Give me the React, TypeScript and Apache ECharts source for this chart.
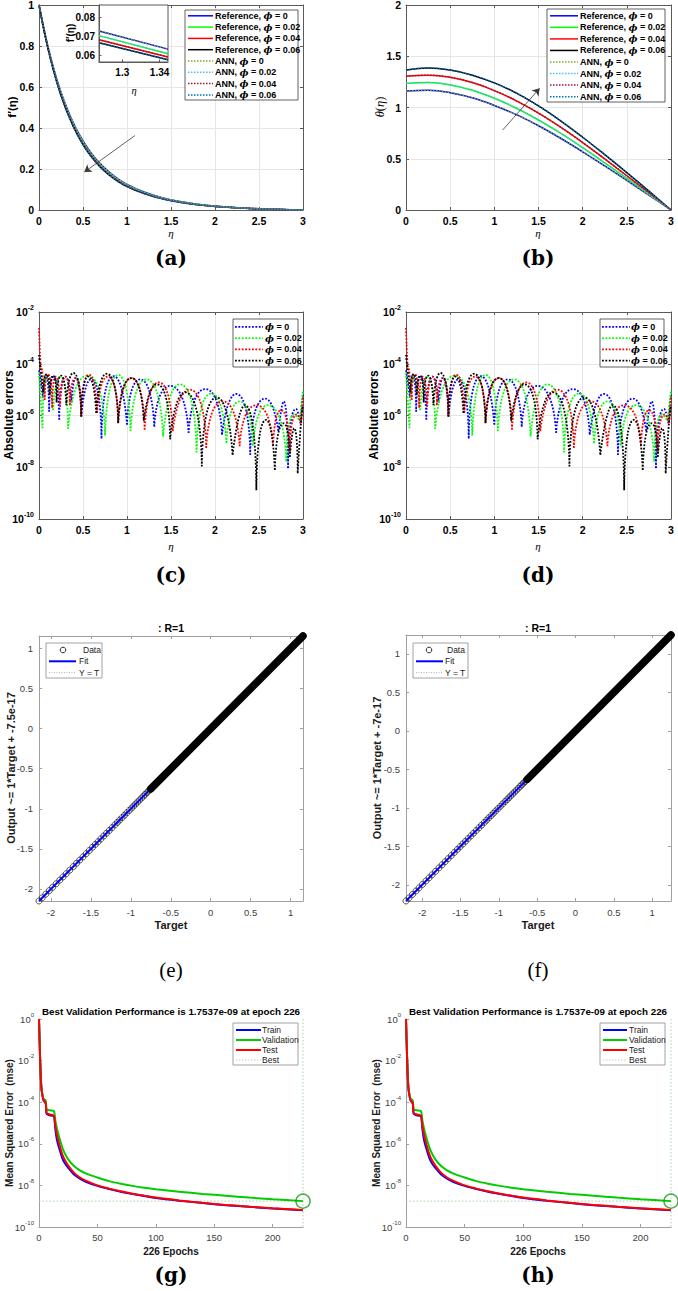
import React, { useEffect, useRef } from 'react';
import * as echarts from 'echarts';

const SANS = 'Liberation Sans, Arial, Helvetica, sans-serif';
const SERIF_B = 'DejaVu Serif, Liberation Serif, serif';
const TSERIF = 'Liberation Serif, DejaVu Serif, serif';
const PHI = 'DejaVu Serif, serif';

// ---------------- (a) f'(eta) ----------------
const etaA = [0, 0.1, 0.2, 0.3, 0.4, 0.5, 0.6, 0.7, 0.8, 0.9, 1.0, 1.2, 1.4, 1.6, 1.8, 2.0, 2.2, 2.4, 2.6, 2.8, 3.0];
const fpRef0 = [1, 0.800, 0.641, 0.516, 0.416, 0.337, 0.274, 0.224, 0.184, 0.151, 0.125, 0.0865, 0.0600, 0.0415, 0.0285, 0.0193, 0.0127, 0.0080, 0.0046, 0.0020, 0];
const fpRef2 = [1, 0.796, 0.635, 0.509, 0.408, 0.329, 0.266, 0.217, 0.178, 0.146, 0.121, 0.0835, 0.0579, 0.0401, 0.0275, 0.0186, 0.0123, 0.0077, 0.0044, 0.0019, 0];
const fpRef4 = [1, 0.793, 0.630, 0.503, 0.402, 0.323, 0.261, 0.212, 0.173, 0.142, 0.117, 0.0810, 0.0561, 0.0388, 0.0266, 0.0180, 0.0119, 0.0075, 0.0043, 0.0019, 0];
const fpRef6 = [1, 0.791, 0.627, 0.499, 0.398, 0.319, 0.257, 0.208, 0.170, 0.139, 0.114, 0.0790, 0.0548, 0.0379, 0.0260, 0.0176, 0.0116, 0.0073, 0.0042, 0.0018, 0];
const fpAnn0 = fpRef0;
const fpAnn2 = fpRef2;
const fpAnn4 = fpRef4;
const fpAnn6 = fpRef6;
const arrowA = [[1.09, 0.363], [0.515, 0.185]];
// inset of (a)
const insetEta = [1.275, 1.349];
const insetPhi0 = [0.0729, 0.0632];
const insetPhi2 = [0.0704, 0.0607];
const insetPhi4 = [0.0682, 0.0590];
const insetPhi6 = [0.0666, 0.0575];
const insetXTicks = [1.3, 1.34];
const insetYTicks = [0.06, 0.07, 0.08];

// ---------------- (b) theta(eta) ----------------
const etaB = [0, 0.25, 0.5, 0.75, 1, 1.25, 1.5, 1.75, 2, 2.25, 2.5, 2.75, 3];
const thRef0 = [1.160, 1.168, 1.145, 1.095, 1.020, 0.930, 0.822, 0.700, 0.568, 0.430, 0.288, 0.145, 0];
const thRef2 = [1.235, 1.243, 1.220, 1.168, 1.090, 0.993, 0.878, 0.749, 0.608, 0.460, 0.309, 0.155, 0];
const thRef4 = [1.305, 1.315, 1.295, 1.243, 1.165, 1.065, 0.945, 0.808, 0.658, 0.498, 0.334, 0.168, 0];
const thRef6 = [1.365, 1.385, 1.365, 1.315, 1.240, 1.140, 1.015, 0.870, 0.710, 0.540, 0.365, 0.184, 0];
const thAnn0 = thRef0;
const thAnn2 = thRef2;
const thAnn4 = thRef4;
const thAnn6 = thRef6;
const arrowB = [[1.094, 0.78], [1.513, 1.187]];

// ---------------- (c),(d) absolute errors ----------------
const errEta0 = [0, 0.045, 0.075, 0.115, 0.165, 0.23, 0.30, 0.37, 0.42, 0.48, 0.59, 0.71, 0.85, 1.0, 1.15, 1.31, 1.49, 1.70, 1.89, 2.08, 2.24, 2.40, 2.57, 2.72, 2.78, 2.83, 2.92, 2.97, 3.0];
const errVal0 = [5.6e-5, 5.0e-6, 3.5e-5, 1.4e-6, 3.2e-5, 6.8e-7, 3.2e-5, 3.2e-6, 2.8e-5, 9.1e-7, 2.5e-5, 1.3e-7, 3.3e-5, 4.4e-7, 2.5e-5, 3.7e-7, 1.4e-5, 2.1e-7, 1.05e-5, 1.8e-7, 6.8e-6, 3.0e-8, 4.5e-6, 2.5e-7, 3.5e-6, 9.1e-9, 1.8e-6, 5.0e-7, 6.3e-6];
const errEta1 = [0, 0.04, 0.09, 0.16, 0.24, 0.33, 0.55, 0.75, 0.90, 1.04, 1.22, 1.41, 1.60, 1.79, 1.96, 2.13, 2.28, 2.43, 2.60, 2.81, 2.90, 2.96, 3.0];
const errVal1 = [4.5e-5, 3.2e-7, 3.2e-5, 1.6e-6, 3.2e-5, 3.0e-7, 3.5e-5, 1.7e-7, 3.7e-5, 2.5e-7, 2.5e-5, 1.55e-7, 1.6e-5, 3.7e-8, 7.1e-6, 8.5e-8, 3.5e-6, 6.9e-8, 2.5e-6, 1.66e-8, 1.1e-6, 6.3e-7, 1.0e-5];
const errEta2 = [0, 0.015, 0.04, 0.065, 0.10, 0.15, 0.19, 0.24, 0.30, 0.35, 0.41, 0.48, 0.57, 0.66, 0.78, 0.90, 1.05, 1.20, 1.36, 1.52, 1.71, 1.90, 2.09, 2.28, 2.47, 2.66, 2.75, 2.85, 2.93, 2.98, 3.0];
const errVal2 = [2.4e-3, 1.26e-4, 4.0e-5, 4.0e-6, 4.0e-5, 2.0e-6, 3.2e-5, 2.2e-6, 3.2e-5, 2.5e-6, 2.8e-5, 9.1e-7, 3.8e-5, 1.26e-6, 3.2e-5, 5.4e-7, 2.8e-5, 2.8e-7, 1.9e-5, 2.5e-7, 1.0e-5, 5.5e-8, 3.5e-6, 6.5e-8, 2.5e-6, 7.1e-8, 1.6e-6, 4.0e-8, 1.1e-6, 5.0e-7, 5.0e-6];
const errEta3 = [0, 0.02, 0.05, 0.085, 0.12, 0.16, 0.20, 0.25, 0.31, 0.39, 0.48, 0.56, 0.65, 0.77, 0.90, 1.05, 1.19, 1.34, 1.49, 1.66, 1.85, 2.02, 2.20, 2.34, 2.47, 2.58, 2.68, 2.78, 2.85, 2.90, 2.94, 2.97, 3.0];
const errVal3 = [2.2e-4, 5.0e-5, 7.9e-6, 4.0e-5, 6.3e-6, 3.5e-5, 3.2e-6, 3.5e-5, 2.5e-6, 4.4e-5, 9.1e-7, 3.2e-5, 1.26e-6, 4.1e-5, 5.0e-7, 2.8e-5, 6.3e-7, 1.6e-5, 1.2e-7, 7.9e-6, 1.07e-8, 5.0e-6, 3.0e-8, 2.5e-6, 1.3e-9, 6.8e-7, 7.9e-9, 5.0e-7, 2.5e-8, 3.2e-7, 5.9e-9, 2.5e-7, 2.5e-6];

// ---------------- (e),(f) regression ----------------
const rangeE = [-2.15, 1.155];
const rangeF = [-2.21, 1.245];
const sparseTargetsE = [-2.15, -2.11, -2.065, -2.02, -1.98, -1.935, -1.89, -1.85, -1.81, -1.765, -1.72, -1.68, -1.64, -1.6, -1.56, -1.52, -1.48, -1.445, -1.41, -1.375, -1.34, -1.305, -1.27, -1.235, -1.2, -1.17, -1.14, -1.11, -1.08, -1.05, -1.02, -0.99, -0.965, -0.94, -0.915, -0.89, -0.865, -0.84, -0.82, -0.8, -0.78, -0.76];
const sparseTargetsF = [-2.21, -2.17, -2.125, -2.08, -2.04, -1.995, -1.95, -1.91, -1.87, -1.825, -1.78, -1.74, -1.7, -1.66, -1.62, -1.58, -1.54, -1.505, -1.47, -1.435, -1.4, -1.365, -1.33, -1.295, -1.26, -1.225, -1.19, -1.16, -1.13, -1.1, -1.07, -1.04, -1.01, -0.98, -0.95, -0.92, -0.895, -0.87, -0.845, -0.82, -0.795, -0.77, -0.745, -0.72, -0.7, -0.68, -0.66, -0.64];
const denseE = [-0.75, 1.155];
const denseF = [-0.63, 1.245];

// ---------------- (g),(h) performance ----------------
const epochs = [0, 1, 2, 3, 4, 5, 5.8, 6.5, 8, 10, 12, 13, 14, 15, 16, 18, 20, 22, 25, 30, 35, 40, 50, 60, 70, 80, 90, 100, 120, 140, 160, 180, 200, 226];
const trainMse = [1, 1e-2, 5e-4, 2e-4, 1.2e-4, 1e-4, 8.5e-5, 2.8e-5, 2.5e-5, 2.3e-5, 2.2e-5, 2e-5, 5e-6, 2e-6, 1.1e-6, 4.5e-7, 2e-7, 1.2e-7, 7e-8, 3.3e-8, 2.1e-8, 1.5e-8, 9.5e-9, 6.7e-9, 5e-9, 3.9e-9, 3.1e-9, 2.5e-9, 1.85e-9, 1.42e-9, 1.12e-9, 9.3e-10, 7.8e-10, 6.4e-10];
const valMse = [1, 1.2e-2, 6e-4, 2.3e-4, 1.4e-4, 1.35e-4, 1.2e-4, 4.5e-5, 4.2e-5, 4e-5, 3.9e-5, 3.6e-5, 1.3e-5, 6.9e-6, 3.8e-6, 1.5e-6, 6.5e-7, 3.5e-7, 1.8e-7, 8.5e-8, 5.3e-8, 3.8e-8, 2.4e-8, 1.6e-8, 1.2e-8, 9.5e-9, 7.8e-9, 6.6e-9, 5e-9, 3.9e-9, 3.2e-9, 2.6e-9, 2.15e-9, 1.7537e-9];
const testMse = [1, 1e-2, 5e-4, 2e-4, 1.2e-4, 1.05e-4, 9e-5, 3e-5, 2.7e-5, 2.5e-5, 2.4e-5, 2.2e-5, 7e-6, 3.4e-6, 1.9e-6, 7e-7, 3e-7, 1.7e-7, 9e-8, 4e-8, 2.4e-8, 1.7e-8, 1e-8, 7e-9, 5.2e-9, 4e-9, 3.2e-9, 2.6e-9, 1.9e-9, 1.45e-9, 1.15e-9, 9.5e-10, 8e-10, 6.5e-10];
const bestEpoch = 226;
const bestPerf = 1.7537e-9;
const mseRange = [1e-10, 1];
const epochMax = 226;

// ---------------- styling ----------------
const BOX = '#5a5a5a';
const BOX2 = '#a0a0a0';
const GRIDC = '#e6e6e6';
const refColors = ['#0000ff', '#00ff00', '#ff0000', '#000000'];
const annColors = ['#77ac30', '#4dbeee', '#a2142f', '#0072bd'];
const errColors = ['#0000ff', '#00ff00', '#ff0000', '#000000'];
const perfColors = ['#0000ff', '#00cc00', '#ff0000'];
const bestColor = '#a8d4a8';

const tickBold = { color: '#000', fontWeight: 'bold', fontSize: 10.5, fontFamily: SANS };
const tickReg = { color: '#404040', fontWeight: 'normal', fontSize: 9.5, fontFamily: SANS };

function supRich(fs: number) {
  return {
    b: { fontSize: fs, verticalAlign: 'middle' },
    s: { fontSize: Math.round(fs * 0.68), verticalAlign: 'middle', padding: [0, 0, 9, 0] },
  };
}
const logFmt = (v: number) => `{b|10}{s|${Math.round(Math.log10(v))}}`;

function pairs(xs: number[], ys: number[]) {
  return xs.map((x, i) => [x, ys[i]]);
}
// split a curve into separate arches at its local minima (sharp cusps)
function arches(xs: number[], ys: number[]) {
  const out: any[] = [];
  for (let i = 0; i < xs.length; i++) {
    out.push([xs[i], ys[i]]);
    if (i > 0 && i < xs.length - 1 && ys[i] < ys[i - 1] && ys[i] < ys[i + 1]) {
      out.push(['-', '-']);
      out.push([xs[i], ys[i]]);
    }
  }
  return out;
}

function mkAxes(kind: 'x' | 'y', gridIndex: number, scale: any, label: any, color: string, split: boolean, both: boolean) {
  const line = { show: true, onZero: false, lineStyle: { color, width: 1 } };
  const tick = { show: true, inside: true, length: 3, lineStyle: { color, width: 1 } };
  const res: any[] = [
    {
      ...scale,
      gridIndex,
      position: kind === 'x' ? 'bottom' : 'left',
      axisLine: line,
      axisTick: tick,
      axisLabel: label,
      splitLine: { show: split, lineStyle: { color: GRIDC, width: 1 } },
      minorTick: { show: false },
    },
  ];
  if (both) {
    res.push({
      ...scale,
      gridIndex,
      position: kind === 'x' ? 'top' : 'right',
      axisLine: line,
      axisTick: tick,
      axisLabel: { show: false },
      splitLine: { show: false },
      minorTick: { show: false },
    });
  }
  return res;
}

function phiLab(prefix: string, v: string) {
  return (prefix ? `{n|${prefix}}` : '') + `{p|ϕ}{n| = ${v}}`;
}

function legendBox(x: number, y: number, w: number, h: number, items: any[], o: any) {
  const els: any[] = [
    { type: 'rect', z: 100, shape: { x, y, width: w, height: h }, style: { fill: '#fff', stroke: o.border, lineWidth: 0.8 } },
  ];
  items.forEach((it, i) => {
    const cy = o.row0 + i * o.step;
    if (it.marker === 'circle') {
      els.push({ type: 'circle', z: 101, shape: { cx: o.markX, cy, r: 2.8 }, style: { fill: 'none', stroke: it.color, lineWidth: 1 } });
    } else {
      const st: any = { stroke: it.color, lineWidth: it.width };
      if (it.dash) st.lineDash = it.dash;
      els.push({ type: 'line', z: 101, shape: { x1: o.l0, y1: cy, x2: o.l1, y2: cy }, style: st });
    }
    els.push({
      type: 'text', z: 101, x: it.marker === 'circle' ? o.dtx : o.tx, y: cy,
      style: { text: it.label, rich: o.rich, fill: '#000', fontSize: o.fs, fontWeight: o.fw, fontFamily: SANS, align: 'left', verticalAlign: 'middle' },
    });
  });
  return els;
}

function txt(x: number, y: number, text: string, st: any, rotate = false) {
  return {
    type: 'text', z: 100, x, y, rotation: rotate ? Math.PI / 2 : 0,
    style: { text, fill: '#000', align: 'center', verticalAlign: 'middle', fontFamily: SANS, ...st },
  };
}

function buildOption() {
  const grid = [
    { left: 39, top: 5, width: 264, height: 205 },
    { left: 406, top: 5, width: 265, height: 205 },
    { left: 39, top: 312, width: 264, height: 207 },
    { left: 406, top: 312, width: 265, height: 207 },
    { left: 39, top: 636, width: 264, height: 265 },
    { left: 406, top: 635, width: 265, height: 266 },
    { left: 39, top: 1019, width: 264, height: 208 },
    { left: 406, top: 1019, width: 265, height: 208 },
    { left: 99, top: 5, width: 69, height: 57, show: true, backgroundColor: '#fff', borderColor: BOX, borderWidth: 1, z: 3 },
  ].map((g) => ({ containLabel: false, outerBoundsMode: 'none', ...g }));

  const xAxis: any[] = [];
  const yAxis: any[] = [];
  const logLabelBold = { ...tickBold, margin: 5, formatter: logFmt, rich: supRich(10.5) };
  const logLabelReg = { ...tickReg, margin: 5, formatter: logFmt, rich: supRich(9.5) };
  const boldLab = { ...tickBold, margin: 5 };

  // a
  xAxis.push(...mkAxes('x', 0, { type: 'value', min: 0, max: 3, interval: 0.5 }, boldLab, BOX, true, true));
  yAxis.push(...mkAxes('y', 0, { type: 'value', min: 0, max: 1, interval: 0.2 }, boldLab, BOX, true, true));
  // b
  xAxis.push(...mkAxes('x', 1, { type: 'value', min: 0, max: 3, interval: 0.5 }, boldLab, BOX, true, true));
  yAxis.push(...mkAxes('y', 1, { type: 'value', min: 0, max: 2, interval: 0.5 }, boldLab, BOX, true, true));
  // c
  xAxis.push(...mkAxes('x', 2, { type: 'value', min: 0, max: 3, interval: 0.5 }, boldLab, BOX, true, true));
  yAxis.push(...mkAxes('y', 2, { type: 'log', logBase: 100, min: 1e-10, max: 1e-2 }, logLabelBold, BOX, true, true));
  // d
  xAxis.push(...mkAxes('x', 3, { type: 'value', min: 0, max: 3, interval: 0.5 }, boldLab, BOX, true, true));
  yAxis.push(...mkAxes('y', 3, { type: 'log', logBase: 100, min: 1e-10, max: 1e-2 }, logLabelBold, BOX, true, true));
  // e
  const regLab = { ...tickReg, margin: 6, showMinLabel: false, showMaxLabel: false };
  xAxis.push(...mkAxes('x', 4, { type: 'value', min: rangeE[0], max: rangeE[1], splitNumber: 7 }, regLab, BOX2, false, true));
  yAxis.push(...mkAxes('y', 4, { type: 'value', min: rangeE[0], max: rangeE[1], splitNumber: 7 }, regLab, BOX2, false, true));
  // f
  xAxis.push(...mkAxes('x', 5, { type: 'value', min: rangeF[0], max: rangeF[1], splitNumber: 7 }, regLab, BOX2, false, true));
  yAxis.push(...mkAxes('y', 5, { type: 'value', min: rangeF[0], max: rangeF[1], splitNumber: 7 }, regLab, BOX2, false, true));
  // g
  xAxis.push(...mkAxes('x', 6, { type: 'value', min: 0, max: epochMax, interval: 50 }, { ...tickReg, margin: 5, showMaxLabel: false }, BOX2, false, false));
  yAxis.push(...mkAxes('y', 6, { type: 'log', logBase: 100, min: mseRange[0], max: mseRange[1] }, logLabelReg, BOX2, false, false));
  // h
  xAxis.push(...mkAxes('x', 7, { type: 'value', min: 0, max: epochMax, interval: 50 }, { ...tickReg, margin: 5, showMaxLabel: false }, BOX2, false, false));
  yAxis.push(...mkAxes('y', 7, { type: 'log', logBase: 100, min: mseRange[0], max: mseRange[1] }, logLabelReg, BOX2, false, false));
  // inset
  xAxis.push({
    type: 'value', gridIndex: 8, min: insetEta[0], max: insetEta[1], z: 4,
    axisLine: { show: true, onZero: false, lineStyle: { color: BOX } },
    axisTick: { show: true, inside: true, length: 2.5, customValues: insetXTicks, lineStyle: { color: BOX } },
    axisLabel: { ...tickBold, fontSize: 10, margin: 5, customValues: insetXTicks },
    splitLine: { show: false },
  });
  yAxis.push({
    type: 'value', gridIndex: 8, min: 0.0563, max: 0.0868, z: 4,
    axisLine: { show: true, onZero: false, lineStyle: { color: BOX } },
    axisTick: { show: true, inside: true, length: 2.5, customValues: insetYTicks, lineStyle: { color: BOX } },
    axisLabel: { ...tickBold, fontSize: 10, margin: 4, customValues: insetYTicks },
    splitLine: { show: false },
  });

  const series: any[] = [];
  const lineS = (name: string, xi: number, yi: number, data: any[], color: string, width: number, dash: any, smooth: number, extra: any = {}) => ({
    type: 'line', name, xAxisIndex: xi, yAxisIndex: yi, data, symbol: 'none', showSymbol: false, smooth,
    lineStyle: { color, width, type: dash || 'solid', cap: 'butt' }, itemStyle: { color }, silent: true, ...extra,
  });

  // (a)
  const fpRefs = [fpRef0, fpRef2, fpRef4, fpRef6];
  const fpAnns = [fpAnn0, fpAnn2, fpAnn4, fpAnn6];
  const phis = ['0', '0.02', '0.04', '0.06'];
  fpRefs.forEach((d, i) => series.push(lineS('Reference, ϕ = ' + phis[i], 0, 0, pairs(etaA, d), refColors[i], 1.5, null, 0.4)));
  fpAnns.forEach((d, i) => series.push(lineS('ANN, ϕ = ' + phis[i], 0, 0, pairs(etaA, d), annColors[i], 1.5, [1.5, 1.5], 0.4)));
  series[0].markLine = {
    silent: true, symbol: ['none', 'arrow'], symbolSize: 7, animation: false,
    lineStyle: { color: '#3a3a3a', width: 0.8, type: 'solid' }, label: { show: false },
    data: [[{ coord: arrowA[0] }, { coord: arrowA[1] }]],
  };
  // inset
  const insets = [insetPhi0, insetPhi2, insetPhi4, insetPhi6];
  insets.forEach((d, i) => series.push(lineS('inset ref ' + i, 14, 14, pairs(insetEta, d), refColors[i], 1.5, null, 0, { z: 5 })));
  insets.forEach((d, i) => series.push(lineS('inset ann ' + i, 14, 14, pairs(insetEta, d), annColors[i], 1.5, [1.5, 1.5], 0, { z: 5 })));

  // (b)
  const thRefs = [thRef0, thRef2, thRef4, thRef6];
  const thAnns = [thAnn0, thAnn2, thAnn4, thAnn6];
  thRefs.forEach((d, i) => series.push(lineS('b Reference ' + i, 2, 2, pairs(etaB, d), refColors[i], 1.5, null, 0.4)));
  thAnns.forEach((d, i) => series.push(lineS('b ANN ' + i, 2, 2, pairs(etaB, d), annColors[i], 1.5, [1.5, 1.5], 0.4)));
  series[series.length - 1].markLine = {
    silent: true, symbol: ['none', 'arrow'], symbolSize: 7, animation: false,
    lineStyle: { color: '#3a3a3a', width: 0.8, type: 'solid' }, label: { show: false },
    data: [[{ coord: arrowB[0] }, { coord: arrowB[1] }]],
  };

  // (c),(d)
  const errs = [[errEta0, errVal0], [errEta1, errVal1], [errEta2, errVal2], [errEta3, errVal3]];
  [4, 6].forEach((ai) => {
    errs.forEach(([xs, ys], i) => series.push(lineS('err ' + ai + ' ' + i, ai, ai, arches(xs, ys), errColors[i], 1.8, [1.8, 1.6], 0.9, { connectNulls: false })));
  });

  // (e),(f)
  const regPanels = [
    { ai: 8, range: rangeE, sparse: sparseTargetsE, dense: denseE },
    { ai: 10, range: rangeF, sparse: sparseTargetsF, dense: denseF },
  ];
  regPanels.forEach((p) => {
    series.push(lineS('Y = T ' + p.ai, p.ai, p.ai, [[p.range[0], p.range[0]], [p.range[1], p.range[1]]], '#8c8c8c', 0.8, [1, 1.5], 0));
    series.push(lineS('Fit ' + p.ai, p.ai, p.ai, [[p.range[0], p.range[0]], [p.range[1], p.range[1]]], '#0000ff', 2, null, 0));
    series.push({
      type: 'scatter', name: 'Data ' + p.ai, xAxisIndex: p.ai, yAxisIndex: p.ai, silent: true, clip: false,
      data: p.sparse.map((t) => [t, t]), symbol: 'circle', symbolSize: 6,
      itemStyle: { color: 'rgba(255,255,255,0)', borderColor: '#2a2a2a', borderWidth: 1 },
    });
    series.push(lineS('Data dense ' + p.ai, p.ai, p.ai, [[p.dense[0], p.dense[0]], [p.dense[1], p.dense[1]]], '#000', 7.5, null, 0, { clip: false, lineStyle: { color: '#000', width: 7.5, cap: 'round' } }));
  });

  // (g),(h)
  [12, 13].forEach((ai) => {
    series.push(lineS('Best h ' + ai, ai, ai, [[0, bestPerf], [epochMax, bestPerf]], bestColor, 1, [1.5, 2], 0));
    series.push(lineS('Best v ' + ai, ai, ai, [[bestEpoch, mseRange[0]], [bestEpoch, mseRange[1]]], bestColor, 1, [1.5, 2], 0));
    series.push(lineS('Train ' + ai, ai, ai, pairs(epochs, trainMse), perfColors[0], 2, null, 0.3));
    series.push(lineS('Validation ' + ai, ai, ai, pairs(epochs, valMse), perfColors[1], 2, null, 0.3));
    series.push(lineS('Test ' + ai, ai, ai, pairs(epochs, testMse), perfColors[2], 2, null, 0.3));
    series.push({
      type: 'scatter', name: 'BestPt ' + ai, xAxisIndex: ai, yAxisIndex: ai, silent: true, clip: false,
      data: [[bestEpoch, bestPerf]], symbol: 'circle', symbolSize: 14,
      itemStyle: { color: 'rgba(255,255,255,0)', borderColor: '#119911', borderWidth: 1.5 }, z: 6,
    });
  });

  // ---------------- graphic: legends, labels ----------------
  const richA = {
    n: { fontSize: 9, fontWeight: 'bold', fontFamily: SANS, fill: '#000' },
    p: { fontSize: 9.5, fontStyle: 'italic', fontWeight: 'bold', fontFamily: PHI, fill: '#000' },
  };
  const itemsAB = [
    ...phis.map((v, i) => ({ label: phiLab('Reference, ', v), color: refColors[i], width: 1.5 })),
    ...phis.map((v, i) => ({ label: phiLab('ANN, ', v), color: annColors[i], width: 1.5, dash: [1.5, 1.5] })),
  ];
  const itemsC = phis.map((v, i) => ({ label: phiLab('', v), color: errColors[i], width: 1.8, dash: [1.8, 1.6] }));
  const richE = { n: { fontSize: 8.5, fontFamily: SANS, fill: '#1a1a1a' } };
  const itemsE = [
    { label: '{n|Data}', color: '#2a2a2a', marker: 'circle' },
    { label: '{n|Fit}', color: '#0000ff', width: 2 },
    { label: '{n|Y = T}', color: '#9a9a9a', width: 0.8, dash: [1, 1.5] },
  ];
  const itemsG = [
    { label: '{n|Train}', color: perfColors[0], width: 2 },
    { label: '{n|Validation}', color: perfColors[1], width: 2 },
    { label: '{n|Test}', color: perfColors[2], width: 2 },
    { label: '{n|Best}', color: '#d0e4d0', width: 1.5, dash: [1.5, 1.5] },
  ];

  const graphicEls: any[] = [
    ...legendBox(185, 10, 113, 90, itemsAB, { border: '#3a3a3a', row0: 15.8, step: 11.3, l0: 188, l1: 213, tx: 215, rich: richA, fs: 9, fw: 'bold' }),
    ...legendBox(547, 9, 118, 93, itemsAB, { border: '#3a3a3a', row0: 15.8, step: 11.55, l0: 550, l1: 578, tx: 580, rich: richA, fs: 9, fw: 'bold' }),
    ...legendBox(233, 319, 65, 48, itemsC, { border: '#3a3a3a', row0: 326.8, step: 11.3, l0: 235, l1: 263, tx: 265, rich: richA, fs: 9, fw: 'bold' }),
    ...legendBox(600, 319, 64, 48, itemsC, { border: '#3a3a3a', row0: 326.8, step: 11.3, l0: 602, l1: 630, tx: 631, rich: richA, fs: 9, fw: 'bold' }),
    ...legendBox(46, 643, 56, 35, itemsE, { border: '#8a8a8a', row0: 650, step: 11.3, l0: 49, l1: 76, tx: 79, markX: 63, dtx: 83, rich: richE, fs: 8.5, fw: 'normal' }),
    ...legendBox(413, 643, 55, 35, itemsE, { border: '#8a8a8a', row0: 650, step: 11.3, l0: 416, l1: 443, tx: 445, markX: 429, dtx: 447, rich: richE, fs: 8.5, fw: 'normal' }),
    ...legendBox(233, 1023, 65, 42, itemsG, { border: '#8a8a8a', row0: 1030, step: 10, l0: 236, l1: 261, tx: 262, rich: richE, fs: 8.5, fw: 'normal' }),
    ...legendBox(600, 1023, 65, 42, itemsG, { border: '#8a8a8a', row0: 1030, step: 10, l0: 603, l1: 627, tx: 629, rich: richE, fs: 8.5, fw: 'normal' }),
  ];

  const panelBold = { fontSize: 20, fontWeight: 'bold', fontFamily: SERIF_B };
  const panelReg = { fontSize: 21, fontWeight: 'normal', fontFamily: TSERIF };
  graphicEls.push(
    txt(171, 258, '(a)', panelBold), txt(538, 258, '(b)', panelBold),
    txt(171, 575, '(c)', panelBold), txt(538, 575, '(d)', panelBold),
    txt(171, 970, '(e)', panelReg), txt(538, 970, '(f)', panelReg),
    txt(171, 1275, '(g)', panelBold), txt(538, 1275, '(h)', panelBold),
  );
  const etaSt = { fontSize: 11, fontStyle: 'italic', fontFamily: TSERIF };
  graphicEls.push(
    txt(171, 233, 'η', etaSt), txt(538, 233, 'η', etaSt),
    txt(171, 546, 'η', etaSt), txt(538, 546, 'η', etaSt),
    txt(12, 107, 'f′(η)', { fontSize: 11.5, fontWeight: 'bold' }, true),
    txt(380, 107, '{i|θ}{r|(}{i|η}{r|)}', { rich: { i: { fontSize: 12.5, fontStyle: 'italic', fontFamily: TSERIF, fill: '#000' }, r: { fontSize: 12.5, fontFamily: TSERIF, fill: '#000' } } }, true),
    txt(9, 415, 'Absolute errors', { fontSize: 12, fontWeight: 'bold' }, true),
    txt(374, 415, 'Absolute errors', { fontSize: 12, fontWeight: 'bold' }, true),
    // inset labels
    txt(70, 33, 'f′(η)', { fontSize: 10, fontWeight: 'bold' }, true),
    txt(134, 90, 'η', { fontSize: 10.5, fontStyle: 'italic', fontFamily: TSERIF }),
    // e, f
    txt(171, 628, ': R=1', { fontSize: 10.5, fontWeight: 'bold' }),
    txt(538, 628, ': R=1', { fontSize: 10.5, fontWeight: 'bold' }),
    txt(171, 925, 'Target', { fontSize: 11, fontWeight: 'bold', fill: '#1a1a1a' }),
    txt(538, 925, 'Target', { fontSize: 11, fontWeight: 'bold', fill: '#1a1a1a' }),
    txt(11, 768, 'Output ~= 1*Target + -7.5e-17', { fontSize: 11, fontWeight: 'bold', fill: '#1a1a1a' }, true),
    txt(377, 768, 'Output ~= 1*Target + -7e-17', { fontSize: 11, fontWeight: 'bold', fill: '#1a1a1a' }, true),
    // g, h
    txt(171, 1011, 'Best Validation Performance is 1.7537e-09 at epoch 226', { fontSize: 9.8, fontWeight: 'bold' }),
    txt(538, 1011, 'Best Validation Performance is 1.7537e-09 at epoch 226', { fontSize: 9.8, fontWeight: 'bold' }),
    txt(171, 1251, '226 Epochs', { fontSize: 10, fontWeight: 'bold', fill: '#1a1a1a' }),
    txt(538, 1251, '226 Epochs', { fontSize: 10, fontWeight: 'bold', fill: '#1a1a1a' }),
    txt(9, 1123, 'Mean Squared Error  (mse)', { fontSize: 10, fontWeight: 'bold', fill: '#1a1a1a' }, true),
    txt(376, 1123, 'Mean Squared Error  (mse)', { fontSize: 10, fontWeight: 'bold', fill: '#1a1a1a' }, true),
  );

  return {
    animation: false,
    backgroundColor: '#fff',
    grid,
    xAxis,
    yAxis,
    series,
    graphic: { elements: graphicEls },
  };
}

export default function App() {
  const ref = useRef<HTMLDivElement>(null);
  useEffect(() => {
    document.body.style.margin = '0';
    const chart = echarts.init(ref.current as HTMLDivElement, null, { renderer: 'svg' });
    chart.setOption(buildOption() as any);
    return () => chart.dispose();
  }, []);
  return <div ref={ref} style={{ width: 678, height: 1291 }} />;
}
